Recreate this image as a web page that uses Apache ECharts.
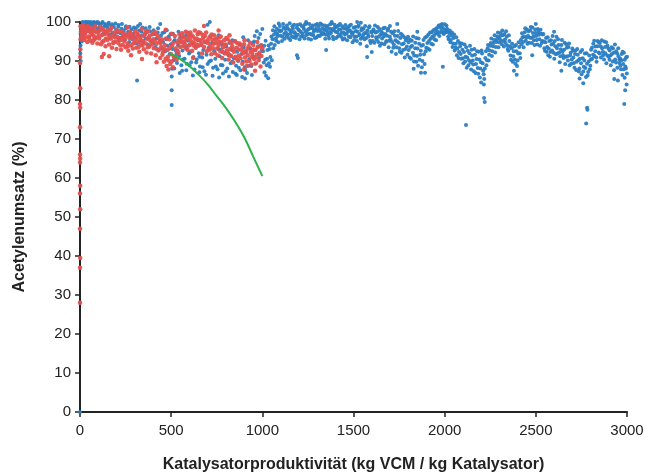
<!DOCTYPE html>
<html><head><meta charset="utf-8">
<script src="https://cdn.jsdelivr.net/npm/echarts@6/dist/echarts.min.js"></script>
<style>html,body{margin:0;padding:0;background:#fff}#c{width:648px;height:474px}</style>
</head><body><div id="c"></div>
<script>
const xTicks = [0, 500, 1000, 1500, 2000, 2500, 3000];
const yTicks = [0, 10, 20, 30, 40, 50, 60, 70, 80, 90, 100];
const xTitle = 'Katalysatorproduktivität (kg VCM / kg Katalysator)';
const yTitle = 'Acetylenumsatz (%)';

const blueA = [
[0,0],[2,92],[3,94],[4,90],[5,96],[3,97],[6,98],[8,99],[10,95],[12,98],[15,99.5],[18,97],[20,99],[25,98.5],[28,100],
[32,99],[36,100],[40,98.2],[44,99.5],[48,97.6],[52,99.8],[56,98.8],[60,100],[64,97.9],[68,99.2],[72,98.5],[76,100],[80,99.1],[85,97.5],[90,99.6],[95,98.4],[100,99.9],[105,97.8],[110,99],[115,98.2],[120,99.7],[126,96.9],[132,98.8],[138,99.5],[144,97.4],[150,98.6],[156,99.3],[162,96.8],[168,98.1],[174,99],[180,97.2],[186,98.7],[192,96.5],[198,98],
[204,97.3],[210,98.8],[216,95.9],[222,97.1],[228,98.3],[234,96.2],[240,97.7],[246,95.4],[252,98.9],[258,96.8],[264,97.5],[270,94.9],[276,96.3],[282,98.1],[288,95.6],[294,97],[300,96.1],[306,98.4],[312,94.5],[318,96.7],[324,97.8],[330,95.2],[336,96.4],[342,98.6],[348,94.8],[354,96.9],[360,95.7],[366,97.4],[372,94.2],[378,96.1],[384,97.6],[390,95],[396,96.8],[313,85],[330,99.5],
[402,94.4],[408,96.9],[414,93.6],[420,95.8],[426,97.3],[432,92.8],[438,95.1],[444,96.5],[450,93.2],[456,94.9],[462,97.4],[468,92.5],[474,95.6],[480,93.9],[486,96.2],[492,91.8],[498,94.3],[503,82.5],[503,78.7],[505,88],[503,86],[440,99.5],
[508,93.1],[514,90.2],[520,95.4],[526,92.6],[532,89.5],[538,94],[544,91.3],[550,96.1],[556,88.9],[562,92.7],[568,94.8],[574,90.6],[580,93.5],[586,89.3],[592,95.2],[598,91.9],[510,97],[540,97.5],[560,87.5],[580,96.5],
[604,92.3],[610,89.7],[616,94.5],[622,91],[628,87.8],[634,93.6],[640,90.4],[646,95.3],[652,92],[658,88.6],[664,94.1],[670,90.9],[676,92.8],[682,87.4],[688,95],[694,91.6],[700,89.2],[706,93.4],[712,100],[718,90.1],[724,94.7],[730,88.3],[736,92.5],[742,90.6],[748,95.8],[754,87.9],[760,93],[766,91.2],[772,89],[778,94.3],[784,86.8],[790,92.1],[796,90.3],[700,99.3],[650,97],[760,96.6],
[802,93.7],[808,88.1],[814,91.5],[820,94.6],[826,89.4],[832,92.8],[838,87.2],[844,90.7],[850,95.1],[856,88.8],[862,92.4],[868,90],[874,94.2],[880,87.6],[886,91.8],[892,89.9],[898,93.5],[904,88.4],[910,92.2],[916,86.9],[922,95.3],[928,90.5],[934,93.2],[940,88.7],[946,94.6],[952,91.1],[958,96.4],[964,92.9],[970,97.6],[976,93.8],[982,90.8],[988,96.9],[994,94.1],[1000,98.2],[905,85.5],[860,86.4],
[1004,92.5],[1008,89.6],[1012,87.1],[1016,90.3],[1020,86.2],[1024,88.9],[1028,92.8],[1032,85.6],[1036,89.4],[1040,93.1],[1044,91],[1048,94.4],[1052,90.2],[1056,95.6],[1060,93.3],[1064,96.8],[1068,94.1],[1072,97.5],[1076,95.2],[1080,98.3],[1084,96.4],[1088,94.8],[1092,97.9],[1096,99],[1100,96.5],[1190,91.5],[1195,90.8],[1350,92.8],[1575,91],[1600,92.3],
[1105,97.8],[1111,96.2],[1117,98.6],[1123,95.7],[1129,97.3],[1135,99.1],[1141,96.8],[1147,98],[1153,95.4],[1159,97.6],[1165,98.9],[1171,96.1],[1177,97.4],[1183,95.9],[1189,98.5],[1195,96.7],[1201,97.9],[1207,99.4],[1213,96.3],[1219,97.1],[1225,98.7],[1231,95.8],[1237,97.5],[1243,99.6],[1249,96.9],[1255,98.2],[1261,97],[1267,95.5],[1273,98.4],[1279,96.6],[1285,97.8],[1291,99.2],[1297,96],[1240,100],
[1303,97.7],[1309,98.9],[1315,96.4],[1321,97.5],[1327,99.3],[1333,96.9],[1339,98.1],[1345,95.7],[1351,97.8],[1357,99],[1363,96.5],[1369,98.3],[1375,97.1],[1381,99.7],[1387,96.2],[1393,97.9],[1399,98.6],[1405,95.9],[1411,97.4],[1417,99.1],[1423,96.7],[1429,98],[1435,97.2],[1441,95.5],[1447,98.4],[1380,100],
[1453,96.8],[1459,98.2],[1465,95.3],[1471,97.6],[1477,99],[1483,96.1],[1489,97.4],[1495,94.8],[1501,98.5],[1507,96.3],[1513,97.7],[1519,95.1],[1525,98.8],[1531,96.6],[1537,94.4],[1543,97.9],[1549,96],[1555,98.3],[1561,95.6],[1567,97.2],[1573,93.8],[1579,96.9],[1585,98.6],[1591,95.2],[1597,97.5],[1520,100],[1540,99.8],
[1603,96.4],[1609,98.1],[1615,94.7],[1621,97.3],[1627,95.5],[1633,98.7],[1639,96.2],[1645,93.9],[1651,97.6],[1657,95.8],[1663,98.4],[1669,94.3],[1675,96.9],[1681,95.1],[1687,97.8],[1693,93.5],[1699,96.3],
[1703,95.6],[1709,92.4],[1715,97.1],[1721,94.2],[1727,96.5],[1733,91.8],[1739,95],[1745,97.7],[1751,93.3],[1757,95.9],[1763,92.1],[1769,96.6],[1775,94.5],[1781,90.9],[1787,95.3],[1793,93.7],[1799,96.2],[1740,99.5],[1700,99],
[1803,92.8],[1809,95.5],[1815,90.6],[1821,93.9],[1827,96.3],[1833,91.4],[1839,94.7],[1845,89.8],[1851,93.2],[1857,95.8],[1863,90.3],[1869,92.6],[1875,88.4],[1881,94.1],[1887,91.7],[1893,96],[1899,93.4],[1850,97.5],[1830,88],[1870,87],[1892,87],
[1905,94.6],[1911,96.8],[1917,92.9],[1923,95.7],[1929,97.4],[1935,94.2],[1941,96.5],[1947,98.1],[1953,95.3],[1959,97.6],[1965,98.8],[1971,96.4],[1977,99.2],[1983,97.5],[1989,98.6],[1995,96.9],[2001,99.4],[2007,97.8],[2013,98.3],[2019,96.2],[2025,97.1],[2031,94.8],[2037,96.5],[2043,93.6],[2049,95.9],[2055,92.7],[2061,94.4],[2067,91.5],[2073,95.1],[2079,92.3],[1990,88.5],
[2085,93.8],[2091,90.6],[2097,92.9],[2103,89.4],[2109,94.2],[2115,91.1],[2121,88.3],[2127,92.6],[2133,90.2],[2139,93.9],[2145,87.8],[2151,91.4],[2157,89.1],[2163,93.1],[2169,86.9],[2175,90.5],[2181,88.2],[2187,92.4],[2193,85.8],[2199,89.7],[2205,91.9],[2211,87.5],[2217,85.4],[2223,90.8],[2229,88.9],[2235,93.2],[2241,90.1],[2247,92.7],[2253,94.6],[2259,91.3],[2265,93.8],[2271,95.4],[2277,92.2],[2283,94.9],[2289,96.3],[2295,93.5],[2117,73.6],[2216,80.5],[2220,79.5],[2200,84.5],[2215,84],
[2301,95.8],[2307,97.2],[2313,94.3],[2319,96.6],[2325,93.7],[2331,95.5],[2337,97.6],[2343,94],[2349,92.6],[2355,95.1],[2361,91.4],[2367,93.3],[2373,89.8],[2379,92.5],[2385,90.4],[2391,94.1],[2397,88.7],[2403,91.9],[2409,93.6],[2415,90.8],[2380,87.5],[2395,86.5],
[2421,94.3],[2427,96.1],[2433,93.5],[2439,97.4],[2445,95.2],[2451,98.1],[2457,96.5],[2463,94.7],[2469,97.8],[2475,95.9],[2481,98.6],[2487,96.3],[2493,94.1],[2499,97.2],[2505,95.4],[2511,98.2],[2517,96.7],[2523,93.9],[2529,97],[2535,95.1],[2541,96.9],[2547,93.3],[2480,91.5],[2500,99.5],
[2553,94.8],[2559,92.4],[2565,96.1],[2571,93.2],[2577,91.1],[2583,95.3],[2589,92.7],[2595,94.4],[2601,90.6],[2607,93.8],[2613,96.2],[2619,91.9],[2625,94.1],[2631,89.7],[2637,93],[2643,95.4],[2649,91.5],[2655,92.9],[2661,89.2],[2667,94.3],[2673,91.2],[2679,93.6],[2685,88.9],[2691,92.1],[2697,90.4],[2600,97.5],[2640,87.5],
[2703,92.6],[2709,89.5],[2715,91.8],[2721,87.7],[2727,93.1],[2733,90.2],[2739,88.1],[2745,92.3],[2751,86.6],[2757,90.7],[2763,88.5],[2769,91.9],[2775,85.9],[2781,89.3],[2787,87.2],[2793,91.4],[2799,88.8],[2776,74],[2781,78],[2783,77.5],[2760,84.3],[2740,85.5],
[2803,92.9],[2809,90.6],[2815,94.4],[2821,91.3],[2827,93.7],[2833,89.8],[2839,95.1],[2845,92.2],[2851,94.6],[2857,90.9],[2863,93.3],[2869,91.5],[2875,95],[2881,92],[2887,89.4],[2893,93.9],[2899,91.1],[2905,92.7],[2911,88.9],[2917,91.8],[2923,93.2],[2929,87.6],[2935,90.4],[2941,92.5],[2947,88.3],[2953,91.2],[2959,89.5],[2930,85.4],[2950,85],
[2963,90.6],[2967,87.9],[2971,91.8],[2975,86.4],[2979,89.2],[2983,92.1],[2987,85.7],[2991,88.6],[2995,90.9],[2999,86.8],[2985,79],[2990,82.5],[2998,84]
];

const blueB = [
[14,100],[30,99.6],[46,100],[62,99.3],[78,99.8],[94,100],[108,99.4],[124,100],[140,99.1],[158,99.8],[176,99.4],[194,99.6],[212,99.2],[230,99.5],[250,98.4],[272,98.8],[296,98.6],[318,99],[338,97.5],[360,98.4],[382,98.7],[404,97.9],[428,98.4],[452,97.2],[476,97.9],[496,96.8],
[517,88.1],[529,91.8],[547,86.9],[565,90.4],[583,87.6],[601,88.9],[619,86.3],[637,89.6],[655,87.1],[673,88.4],[691,86.5],[709,89.9],[727,86.2],[745,88.6],[763,85.8],[781,88.9],[799,87.4],[817,86],[835,89.8],[853,86.7],[871,88.3],[889,85.9],[907,87.7],[925,88.8],[943,86.4],[961,89.3],[979,95.9],[997,92.8],[515,95],[535,92.7],[595,93.9],[655,91.1],[715,96.4],[775,92.9],[835,95.3],[895,96.1],[955,95],
[1010,93.9],[1018,95.2],[1026,90.6],[1034,94],[1042,88.5],[1050,96.3],[1058,97.9],[1066,98.9],[1074,95.8],[1082,97],[1090,99.6],[1098,97.6],[1108,95.1],[1114,99.5],[1120,97],[1126,98.2],[1132,96.4],[1138,98.4],[1144,95.9],[1150,99.7],[1156,97.1],[1162,96.3],[1168,98.3],[1174,99.3],[1180,97],[1186,96.4],[1192,99.2],[1198,98.1],[1204,95.6],[1210,97.5],[1216,99],[1222,96.4],[1228,98.2],[1234,99.4],[1240,96.6],[1246,97.9],[1252,95.7],[1258,99.5],[1264,98.5],[1270,96.8],[1276,99.1],[1282,97.5],[1288,95.9],[1294,98.3],[1300,99.5],
[1306,96.5],[1312,98.1],[1318,99.6],[1324,96.8],[1330,98.4],[1336,97.2],[1342,99.1],[1348,96.7],[1354,98.6],[1360,97.4],[1366,95.8],[1372,99.4],[1378,97.6],[1384,98.2],[1390,95.6],[1396,99.3],[1402,97.5],[1408,98.8],[1414,96.3],[1420,98.1],[1426,99.5],[1432,96.2],[1438,98.9],[1444,97.3],[1450,95.8],[1456,99.2],[1462,97.1],[1468,98.5],[1474,96.3],[1480,97.9],[1486,99.3],[1492,96.7],[1498,97.3],[1504,95.4],[1510,98.7],[1516,96.2],[1522,97.5],[1528,99.1],[1534,96.9],[1540,95.7],[1546,98.4],[1552,96.5],[1558,97.1],[1564,99],[1570,95.9],[1576,97.8],[1582,96.3],[1588,98.9],[1594,94.6],[1600,97.4],[1606,95.1],[1612,97.7],[1618,99.1],[1624,96.1],[1630,97.5],[1636,94.9],[1642,98.2],[1648,96.7],[1654,94.5],[1660,97.1],[1666,96.3],[1672,98.5],[1678,94.9],[1684,96.5],[1690,98.3],[1696,95.2],
[1706,97.5],[1712,94.9],[1718,93.4],[1724,97.6],[1730,95.3],[1736,93.5],[1742,96.4],[1748,94.7],[1754,92.4],[1760,97],[1766,94.3],[1772,92.8],[1778,96.1],[1784,93.1],[1790,95.7],[1796,91.6],[1802,94.8],[1808,90.9],[1814,93.6],[1820,95.2],[1826,92.1],[1832,89.9],[1838,93.3],[1844,95.9],[1848,91.3],[1854,88.8],[1860,94.4],[1866,91.6],[1872,93.9],[1878,90],[1884,95.4],[1890,89.2],[1896,92.5],[1902,96.3],[1908,93.2],[1914,95.1],[1920,97.3],[1926,94.4],[1932,96.2],[1938,97.9],[1944,95.6],[1950,97.1],[1956,98.4],[1962,96.9],[1968,99.1],[1974,97.4],[1980,98.4],[1986,99.5],[1992,97.2],[1998,98.1],[2004,97.3],[2010,99.1],[2016,97.5],[2022,95.6],[2028,97.8],[2034,95.4],[2040,97.3],[2046,94.5],[2052,96.8],[2058,93.5],[2064,96.1],[2070,93.2],[2076,90.8],[2082,94.6],[2088,91.8],[2094,94.5],
[2100,90.7],[2106,92.3],[2112,89.9],[2118,93.5],[2124,90.9],[2130,88.9],[2136,92],[2142,89.6],[2148,92.9],[2154,90.1],[2160,87.4],[2166,91.6],[2172,89.2],[2178,92.5],[2184,86.7],[2190,90.4],[2196,88.1],[2202,92.7],[2208,89.4],[2214,86.6],[2220,88.1],[2226,92.5],[2232,90.2],[2238,94.1],[2244,91.6],[2250,93.9],[2256,95.8],[2262,92.5],[2268,94.6],[2274,96.6],[2280,93.6],[2286,95.6],[2292,97.3],[2298,94.8],[2304,96.4],[2310,95.2],[2316,97.8],[2322,95.1],[2328,96.9],[2334,94.6],[2340,96.2],[2346,93.1],[2352,96.6],[2358,93.8],[2364,90.3],[2370,94.4],[2376,91.2],[2382,93.8],[2388,89.3],[2394,92.5],[2400,90.1],[2406,94.8],[2412,92],[2418,95.4],
[2424,97.1],[2430,94.9],[2436,96.3],[2442,98.4],[2448,96],[2454,94.4],[2460,97.6],[2466,96],[2472,98.7],[2478,94.6],[2484,97.2],[2490,95.3],[2496,98.1],[2502,96.4],[2508,94.2],[2514,97.4],[2520,95.6],[2526,98],[2532,94.6],[2538,96.8],[2544,95],[2550,92.6],[2556,95.9],[2562,93.6],[2568,91.5],[2574,95.1],[2580,92.3],[2586,94.2],[2592,96.4],[2598,92.1],[2604,95.1],[2610,91.7],[2616,93.3],[2622,95.6],[2628,92.2],[2634,91.2],[2640,94.1],[2646,92.4],[2652,90.8],[2658,94.7],[2664,91.1],[2670,93.4],[2676,90.1],[2682,94.5],[2688,91.4],[2694,89.3],[2700,93.2],[2706,90.9],[2712,88.3],[2718,92.7],[2724,89.8],[2730,91.6],[2736,87.3],[2742,90.6],[2748,89.4],[2754,92.8],[2760,87.3],[2766,90.1],[2772,88.2],[2778,92],[2784,86.3],[2790,89.9],[2796,87.9],[2802,90.4],[2808,93.4],[2814,91.6],[2820,95.2],[2826,92.5],[2832,90.9],[2838,93.8],[2844,94.9],[2850,91.9],[2856,93.7],[2862,95.3],[2868,92.4],[2874,90.4],[2880,93.6],[2886,94.8],[2892,91.4],[2898,93.2],[2904,90.3],[2910,91.4],[2916,93.5],[2922,89.9],[2928,92.1],[2934,94.2],[2940,89.6],[2946,91.9],[2952,93.3],[2958,90.4],[2964,88.8],[2970,90.2],[2976,92.4],[2982,87.9],[2988,90.3],[2994,88.1],[3000,91.1]
];

const redA = [
[0,28],[0,37],[1,39.5],[0,47],[1,52],[0,56],[1,58],[0,64],[1,65],[0,66],[0,73],[1,78],[0,79],[1,83],[0,89.5],[2,93],[3,95.5],[1,91],
[5,97.5],[8,96.2],[10,98.4],[13,95.8],[16,97.9],[19,96.6],[22,98.8],[25,95.4],[28,97.3],[32,96.1],[36,98.5],[40,94.9],[44,97.6],[48,96.3],[52,98.1],[56,95.2],[60,97.4],[64,96.8],[68,94.7],[72,98],[76,96.4],[80,95.6],[85,97.7],[90,96],[95,94.5],[100,97.2],
[105,95.8],[110,97.9],[115,94.3],[120,96.6],[125,98.2],[130,95.1],[135,96.9],[140,93.8],[145,97.5],[150,95.4],[155,96.8],[160,94.2],[165,97.8],[170,95.7],[175,93.4],[180,96.5],[185,94.8],[190,97.3],[195,95],[200,93.1],[205,96.2],[210,94.6],[215,97.6],[220,95.3],[225,92.9],[230,96],[235,94.1],[240,97.1],[245,95.5],[250,93.5],[255,96.7],[260,94.4],[265,92.6],[270,95.9],[275,97.4],[280,94],[285,95.8],[290,93.2],[295,96.4],[300,94.7],[120,91],[130,91.8],[160,91.2],[260,98.6],[280,91.5],
[305,95.6],[310,93.4],[315,97],[320,94.9],[325,92.4],[330,96.3],[335,94.3],[340,98.3],[345,95.1],[350,93],[355,96.8],[360,94.5],[365,92.2],[370,95.7],[375,97.6],[380,93.7],[385,95.3],[390,91.9],[395,94.8],[400,96.9],[405,93.3],[410,95.2],[415,91.5],[420,94.4],[425,96.6],[430,92.7],[435,94.9],[440,90.8],[445,93.6],[450,95.5],[340,90.5],[420,89.7],
[455,92.3],[460,89.8],[465,94.1],[470,90.6],[475,88.7],[480,92.8],[485,90.1],[490,95.6],[495,89.2],[500,91.7],[505,93.9],[510,88.4],[515,91],[520,96.4],[525,93.2],[530,90.3],[535,94.7],[540,92.1],[545,96.8],[550,93.6],[470,98],[500,97],[485,87.8],
[555,95.2],[560,97.1],[565,93.8],[570,96],[575,94.3],[580,97.5],[585,95.6],[590,92.9],[595,96.5],[600,94.1],[605,97.3],[610,95],[615,92.6],[620,96.2],[625,94.6],[630,97.8],[635,93.4],[640,95.8],[645,96.9],[650,93.9],[655,95.4],[660,97.2],[665,94.2],[670,91.9],[675,95.9],[680,93.6],[685,96.4],[690,94.8],[695,92.5],[700,95.3],[620,90.8],[680,99],
[705,93.1],[710,96.1],[715,94],[720,91.7],[725,95.5],[730,93.3],[735,96.6],[740,92],[745,94.6],[750,95.8],[755,91.4],[760,93.9],[765,96],[770,92.5],[775,94.8],[780,90.8],[785,93.5],[790,95.3],[795,91.9],[800,94.2],[805,92.7],[810,95.6],[815,90.4],[820,93.1],[825,94.9],[830,91.3],[835,93.8],[840,89.6],[845,92.4],[850,95],[855,91.1],[860,93.4],[865,90.2],[870,92.9],[875,94.5],[880,90.7],[885,93],[890,89.3],[895,92],[900,94.3],[905,90.9],[910,92.6],[915,88.7],[920,91.5],[925,93.8],[930,90],[935,92.3],[940,89.1],[945,91.9],[950,94.1],[955,90.5],[960,92.8],[965,89.4],[970,91.6],[975,93.5],[980,90.2],[985,92.1],[990,88.6],[995,91.3],[1000,93.2],[900,87.8],[960,87.5],[820,96.6],[760,97.8]
];

const redB = [
[3,98.9],[12,97],[18,99.2],[27,96.9],[34,97.8],[42,98.9],[50,95.9],[58,98.6],[66,97.2],[74,95.3],[83,98.9],[92,97.5],[102,96.2],[112,98.8],[122,94.9],[132,97.7],[142,95.8],[152,97.9],[162,96.1],[172,98.5],[182,94.6],[192,96.1],[202,97.8],[212,95.6],[222,94],[232,97.4],[242,95.1],[252,96.3],[262,93.7],[272,97.2],[282,96.6],[292,94.5],[302,97.7],[312,96],[322,93.6],[332,95.5],[342,94],[352,96.4],[362,97.7],[372,93.5],[382,96.5],[392,94.2],[402,95.6],[412,97.4],[422,93.1],[432,95.9],[442,94.6],[452,91.6],[462,93.1],[472,95.8],[482,91.1],[492,93.3],[502,89.9],[512,94.7],[522,90.9],[532,92.4],[542,95.3],[552,94.8],[562,96.3],[572,94.9],[582,93.2],[592,97.2],[602,95.7],[612,96.6],[622,94],[632,95.6],[642,94.2],[652,97.4],[662,95.1],[672,96.7],[682,94.9],[692,97.3],[702,94.6],[712,92.9],[722,96.8],[732,94.4],[742,95.6],[752,93.2],[762,94.9],[772,96.3],[782,92.3],[792,94.1],[802,95.9],[812,92],[822,91.5],[832,94.7],[842,93],[852,90.8],[862,94.6],[872,91.4],[882,94.1],[892,92.4],[902,95.3],[912,89.9],[922,93.2],[932,94.7],[942,91],[952,92.9],[962,90.9],[972,94.9],[982,91.7],[992,93.9]
];

const green = [[490,92],[550,90.5],[600,88.7],[650,86.5],[700,84],[750,81],[800,78],[850,74.5],[900,70.5],[950,65.5],[1000,60.5]];

const chart = echarts.init(document.getElementById('c'), null, {renderer: 'canvas'});
const axisLabelStyle = {color: '#222', fontSize: 15, fontFamily: 'Liberation Sans Narrow, Liberation Sans, Arial, sans-serif', formatter: v => String(v)};
chart.setOption({
  animation: false,
  backgroundColor: '#fff',
  grid: {left: 80, right: 21, top: 22, bottom: 62, containLabel: false, outerBoundsMode: 'none'},
  xAxis: {
    type: 'value', min: xTicks[0], max: xTicks[xTicks.length - 1], interval: 500,
    name: xTitle, nameLocation: 'middle', nameGap: 45,
    nameTextStyle: {color: '#222', fontSize: 16, fontWeight: 'bold', fontFamily: 'Liberation Sans, Arial, sans-serif'},
    axisLine: {show: true, onZero: false, lineStyle: {color: '#222', width: 2}},
    axisTick: {show: true, length: 5, lineStyle: {color: '#222', width: 1.5}},
    axisLabel: Object.assign({margin: 11}, axisLabelStyle),
    splitLine: {show: false}
  },
  yAxis: {
    type: 'value', min: yTicks[0], max: yTicks[yTicks.length - 1], interval: 10,
    name: yTitle, nameLocation: 'middle', nameGap: 52, nameRotate: 90,
    nameTextStyle: {color: '#222', fontSize: 16, fontWeight: 'bold', fontFamily: 'Liberation Sans, Arial, sans-serif'},
    axisLine: {show: true, lineStyle: {color: '#222', width: 2}},
    axisTick: {show: true, length: 5, lineStyle: {color: '#222', width: 1.5}},
    axisLabel: Object.assign({margin: 9}, axisLabelStyle),
    splitLine: {show: false}
  },
  series: [
    {type: 'scatter', data: blueA.concat(blueB), symbol: 'circle', symbolSize: 4, itemStyle: {color: '#2a7dc2', opacity: 0.95}, z: 2},
    {type: 'scatter', data: redA.concat(redB), symbol: 'circle', symbolSize: 4.5, itemStyle: {color: '#e4504e', opacity: 0.95}, z: 3},
    {type: 'line', data: green, smooth: true, symbol: 'none', lineStyle: {color: '#2db34a', width: 2}, z: 4}
  ]
});
</script>
</body></html>
